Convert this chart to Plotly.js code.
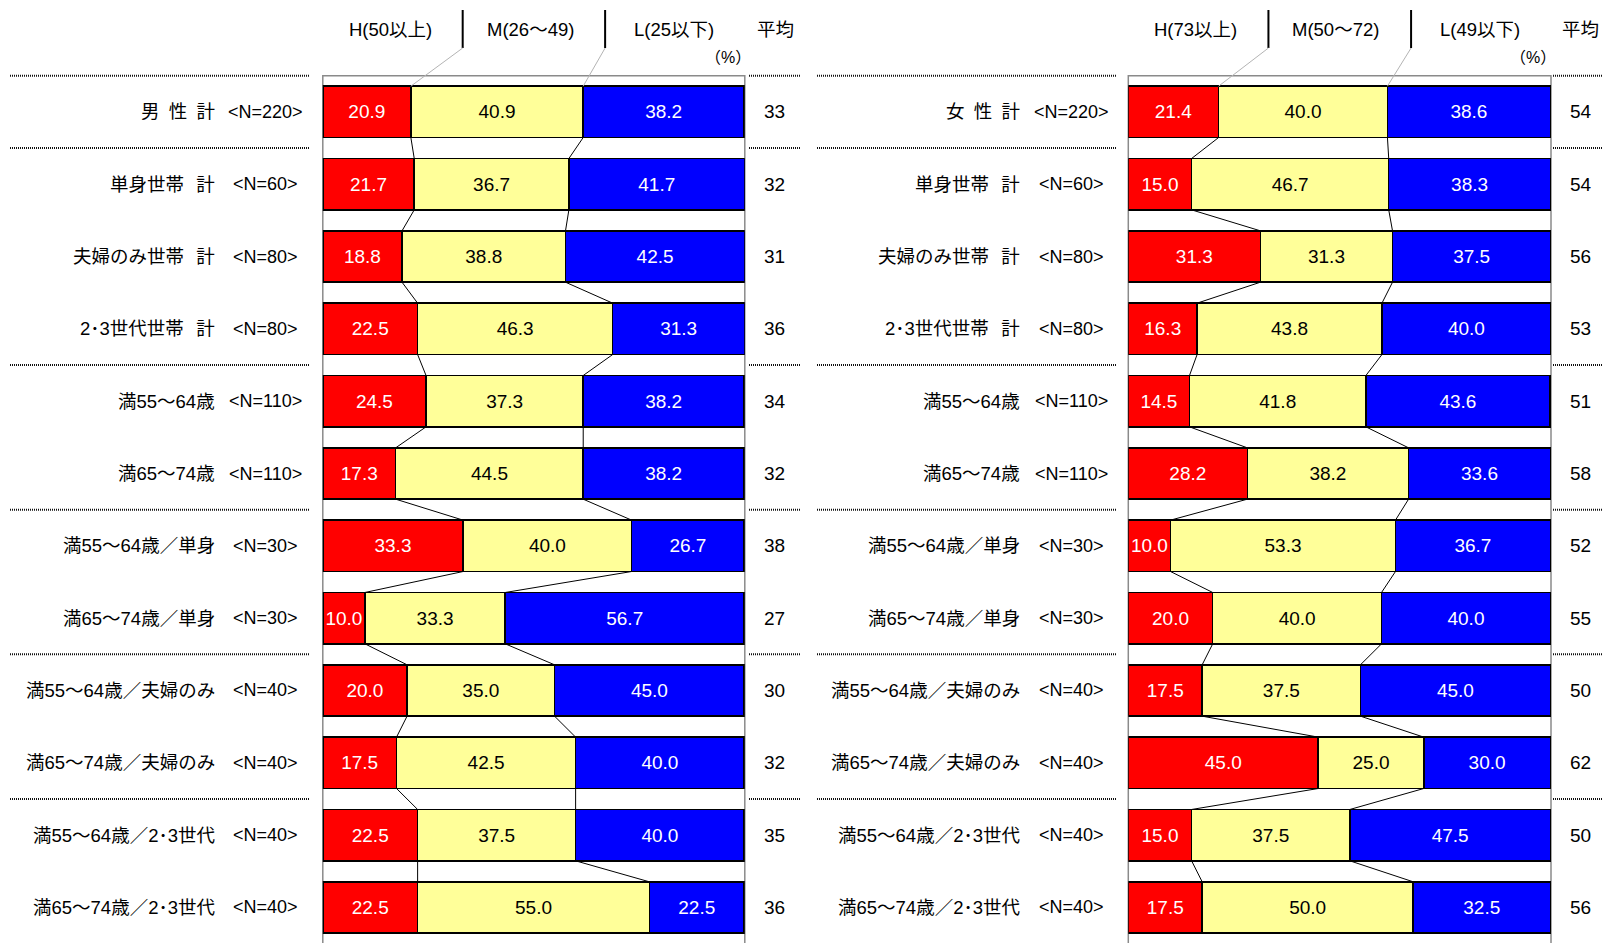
<!DOCTYPE html>
<html>
<head>
<meta charset="utf-8">
<script src="https://cdn.plot.ly/plotly-3.0.1.min.js"></script>
<style>html,body{margin:0;padding:0;overflow:hidden;background:#fff}</style>
</head>
<body>
<div id="chart" style="width:1602px;height:943px"></div>
<script>
// ---- data ----
const SP = '\u2002\u2006';   // gap before 計
const menLabels = ['男\u2002性\u2002計', '単身世帯' + SP + '計', '夫婦のみ世帯' + SP + '計', '2･3世代世帯' + SP + '計',
  '満55〜64歳', '満65〜74歳', '満55〜64歳／単身', '満65〜74歳／単身',
  '満55〜64歳／夫婦のみ', '満65〜74歳／夫婦のみ', '満55〜64歳／2･3世代', '満65〜74歳／2･3世代'];
const womenLabels = ['女\u2002性\u2002計', '単身世帯' + SP + '計', '夫婦のみ世帯' + SP + '計', '2･3世代世帯' + SP + '計',
  '満55〜64歳', '満65〜74歳', '満55〜64歳／単身', '満65〜74歳／単身',
  '満55〜64歳／夫婦のみ', '満65〜74歳／夫婦のみ', '満55〜64歳／2･3世代', '満65〜74歳／2･3世代'];
const sampleSizes = ['<N=220>', '<N=60>', '<N=80>', '<N=80>', '<N=110>', '<N=110>',
  '<N=30>', '<N=30>', '<N=40>', '<N=40>', '<N=40>', '<N=40>'];

const menHigh = [20.9, 21.7, 18.8, 22.5, 24.5, 17.3, 33.3, 10.0, 20.0, 17.5, 22.5, 22.5];
const menMid  = [40.9, 36.7, 38.8, 46.3, 37.3, 44.5, 40.0, 33.3, 35.0, 42.5, 37.5, 55.0];
const menLow  = [38.2, 41.7, 42.5, 31.3, 38.2, 38.2, 26.7, 56.7, 45.0, 40.0, 40.0, 22.5];
const menAvg  = [33, 32, 31, 36, 34, 32, 38, 27, 30, 32, 35, 36];

const womenHigh = [21.4, 15.0, 31.3, 16.3, 14.5, 28.2, 10.0, 20.0, 17.5, 45.0, 15.0, 17.5];
const womenMid  = [40.0, 46.7, 31.3, 43.8, 41.8, 38.2, 53.3, 40.0, 37.5, 25.0, 37.5, 50.0];
const womenLow  = [38.6, 38.3, 37.5, 40.0, 43.6, 33.6, 36.7, 40.0, 45.0, 30.0, 47.5, 32.5];
const womenAvg  = [54, 54, 56, 53, 51, 58, 52, 55, 50, 62, 50, 56];

const menBands   = ['H(50以上)', 'M(26〜49)', 'L(25以下)'];
const womenBands = ['H(73以上)', 'M(50〜72)', 'L(49以下)'];
const avgTitle = '平均';
const unitLabel = '（%）';
// rows that start a new group (a dotted rule is drawn above them)
const groupStarts = [0, 1, 4, 6, 8, 10];

// ---- geometry / style ----
const W = 1602, H = 943;
const FONT = "'Liberation Sans', Arial, 'Noto Sans CJK JP', sans-serif";
const COLORS = ['#FF0000', '#FFFF99', '#0000FF'];
const TEXTCOL = ['#FFFFFF', '#000000', '#FFFFFF'];
const BARGAP = 0.29;
const HALF = (1 - BARGAP) / 2;
const XMAX = 100.15;                           // rounded shares can add up to 100.1
const ROW0 = 111.85, PITCH = 72.33;           // pixel centre of first row, row pitch
const yAt = px => (px - ROW0) / PITCH;         // pixel row -> y value
const rows = menHigh.map((_, i) => i);

const panels = [
  { xa: 'x',  left: 322.8,  right: 744.8,  labels: menLabels,   high: menHigh,   mid: menMid,   low: menLow,   avg: menAvg,   bands: menBands,
    labelRight: 217, nCenter: 265.5, avgX: 774.5, bandX: [390, 530, 674], avgTitleX: 775, unitX: 728,
    ruleL: [10, 310], ruleR: [749, 800] },
  { xa: 'x2', left: 1128.3, right: 1551,   labels: womenLabels, high: womenHigh, mid: womenMid, low: womenLow, avg: womenAvg, bands: womenBands,
    labelRight: 1022, nCenter: 1071, avgX: 1580.5, bandX: [1195.5, 1335.5, 1479.5], avgTitleX: 1580.5, unitX: 1533,
    ruleL: [817, 1116], ruleR: [1553, 1602] }
];
const headerSep = [33.2, 67.0];   // separator positions in axis units

const traces = [];
const shapes = [];
const annotations = [];

const ann = (x, y, text, size, anchor) => ({
  xref: 'paper', yref: 'y', x: x / W, y: y, text: text, showarrow: false,
  xanchor: anchor || 'center', yanchor: 'middle', font: { size: size, family: FONT, color: '#000' }
});

panels.forEach(p => {
  const series = [p.high, p.mid, p.low];
  series.forEach((vals, k) => {
    traces.push({
      type: 'bar', orientation: 'h', x: vals, y: rows, xaxis: p.xa, yaxis: 'y',
      marker: { color: COLORS[k], line: { color: '#000', width: 1.5 } },
      text: vals.map(v => v.toFixed(1)), textposition: 'inside', insidetextanchor: 'middle',
      textangle: 0, textfont: { size: 19, family: FONT, color: TEXTCOL[k] },
      constraintext: 'none', hoverinfo: 'skip', cliponaxis: false
    });
  });

  // connecting lines between neighbouring bars
  const b1 = p.high;
  const b2 = p.high.map((v, i) => v + p.mid[i]);
  const lx = [], ly = [];
  [b1, b2].forEach(b => {
    for (let i = 0; i < b.length - 1; i++) {
      lx.push(b[i], b[i + 1], null);
      ly.push(i + HALF, i + 1 - HALF, null);
    }
  });
  traces.push({ type: 'scatter', mode: 'lines', x: lx, y: ly, xaxis: p.xa, yaxis: 'y',
    line: { color: '#000', width: 1 }, hoverinfo: 'skip' });

  // header separators and their leader lines to the first bar
  const yTop = yAt(10), yBot = yAt(48);
  [b1[0], b2[0]].forEach((b, k) => {
    shapes.push({ type: 'line', xref: p.xa, yref: 'y', x0: headerSep[k], x1: headerSep[k], y0: yTop, y1: yBot,
      line: { color: '#000', width: 2 } });
    shapes.push({ type: 'line', xref: p.xa, yref: 'y', x0: headerSep[k], x1: b, y0: yBot, y1: -HALF,
      line: { color: '#b4b4b4', width: 1 } });
  });

  // plot frame
  shapes.push({ type: 'rect', xref: 'paper', yref: 'y', x0: p.left / W, x1: p.right / W, y0: -0.5, y1: 12.5,
    line: { color: '#8a8a8a', width: 1.5 }, fillcolor: 'rgba(0,0,0,0)', layer: 'below' });

  // dotted group rules
  groupStarts.forEach(r => {
    [p.ruleL, p.ruleR].forEach(seg => {
      shapes.push({ type: 'line', xref: 'paper', yref: 'y', x0: seg[0] / W, x1: seg[1] / W, y0: r - 0.5, y1: r - 0.5,
        line: { color: '#111', width: 2, dash: '1px,1px' } });
    });
  });

  // row labels, sample sizes, averages
  rows.forEach(i => {
    annotations.push(ann(p.labelRight, i, p.labels[i], 18.5, 'right'));
    annotations.push(ann(p.nCenter, i, sampleSizes[i], 18, 'center'));
    annotations.push(ann(p.avgX, i, String(p.avg[i]), 19, 'center'));
  });

  // header texts
  p.bands.forEach((t, k) => annotations.push(ann(p.bandX[k], yAt(29), t, 18.5, 'center')));
  annotations.push(ann(p.avgTitleX, yAt(29), avgTitle, 18.5, 'center'));
  annotations.push(ann(p.unitX, yAt(57), unitLabel, 16, 'center'));
});

const axisX = (l, r) => ({ domain: [l / W, r / W], range: [0, XMAX], showgrid: false, zeroline: false,
  showticklabels: false, showline: false, ticks: '', fixedrange: true, anchor: 'y' });

const layout = {
  width: W, height: H, margin: { l: 0, r: 0, t: 0, b: 0, pad: 0 },
  paper_bgcolor: '#fff', plot_bgcolor: '#fff',
  barmode: 'stack', bargap: BARGAP, showlegend: false,
  font: { family: FONT, color: '#000' },
  uniformtext: { mode: 'show', minsize: 19 },
  xaxis: axisX(panels[0].left, panels[0].right),
  xaxis2: axisX(panels[1].left, panels[1].right),
  yaxis: { domain: [0, 1], range: [yAt(H), yAt(0)], showgrid: false, zeroline: false,
    showticklabels: false, showline: false, ticks: '', fixedrange: true },
  shapes: shapes,
  annotations: annotations
};

Plotly.newPlot('chart', traces, layout, { displayModeBar: false, staticPlot: true });
</script>
</body>
</html>
